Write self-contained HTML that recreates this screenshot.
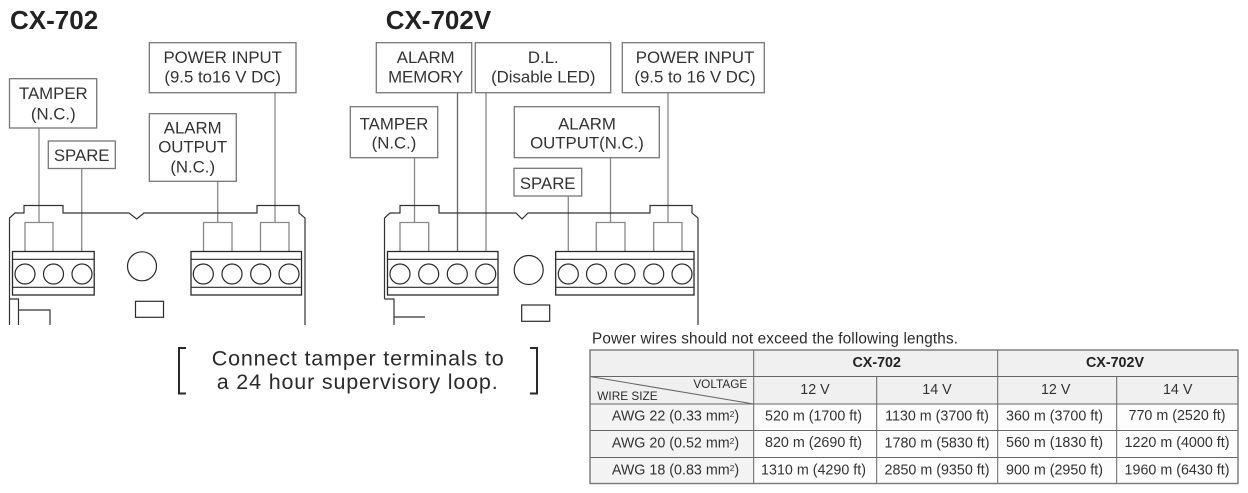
<!DOCTYPE html>
<html><head><meta charset="utf-8"><style>
html,body{margin:0;padding:0;background:#fff;width:1248px;height:493px;overflow:hidden}
svg{display:block}
text{font-family:"Liberation Sans",sans-serif;fill:#2b2b2b}
.l{font-size:16.8px;text-anchor:middle;fill:#333}
.t{font-size:14.3px;text-anchor:middle;fill:#333}
.b{fill:#fff;stroke:#777;stroke-width:1.3}
.g{fill:none;stroke:#888;stroke-width:1.3}
.k{fill:none;stroke:#2a2a2a;stroke-width:1.2}
.o{fill:none;stroke:#333;stroke-width:1.2}
.c{fill:none;stroke:#666;stroke-width:1}
.s{font-size:8.5px}
</style></head><body>
<svg width="1248" height="493" viewBox="0 0 1248 493" xmlns="http://www.w3.org/2000/svg">
<!-- titles -->
<text x="10" y="29" font-size="26" font-weight="700" style="fill:#222">CX-702</text>
<text x="385.7" y="29" font-size="26" font-weight="700" style="fill:#222">CX-702V</text>

<!-- left connectors -->
<path class="g" d="M39 128V222.5M81.7 168.5V251.5M217.7 181.3V222.5M275 92.7V222.5M25 251.5V222.5H53V251.5M203.5 251.5V222.5H232V251.5M260.5 251.5V222.5H289V251.5"/>
<!-- left boxes -->
<rect class="b" x="9.5" y="78.7" width="87.2" height="49.3"/>
<rect class="b" x="48.3" y="141" width="67" height="27.5"/>
<rect class="b" x="149.3" y="42.7" width="146.7" height="50"/>
<rect class="b" x="149.3" y="113.7" width="87" height="67.6"/>
<text class="l" x="53.3" y="99">TAMPER</text><text class="l" x="53.3" y="119.3">(N.C.)</text>
<text class="l" x="81.7" y="161">SPARE</text>
<text class="l" x="222.7" y="63">POWER INPUT</text><text class="l" x="222.7" y="82.7">(9.5 to16 V DC)</text>
<text class="l" x="192.7" y="133.3">ALARM</text><text class="l" x="192.7" y="152.7">OUTPUT</text><text class="l" x="192.7" y="172.7">(N.C.)</text>
<!-- left board -->
<path class="o" d="M9.5 325V299M9.5 299V218L15 213H24V205.5H63V213H129L136.7 219L144 213H257V205.5H299V213L305 218V325M9.5 299H18.5V325M18.5 310H50V325"/>
<rect class="k" x="12.5" y="251.5" width="81.7" height="43.5" style="stroke-width:1.3"/>
<path class="k" d="M12.5 259.3H94.2M12.5 287.3H94.2"/>
<circle class="k" cx="25" cy="274" r="10"/><circle class="k" cx="53.5" cy="274" r="10"/><circle class="k" cx="82" cy="274" r="10"/>
<rect class="k" x="191" y="251.5" width="110.5" height="43.5" style="stroke-width:1.3"/>
<path class="k" d="M191 259.3H301.5M191 287.3H301.5"/>
<circle class="k" cx="203.3" cy="274" r="10"/><circle class="k" cx="232" cy="274" r="10"/><circle class="k" cx="260.7" cy="274" r="10"/><circle class="k" cx="289" cy="274" r="10"/>
<circle class="k" cx="142" cy="266.3" r="14.5"/>
<rect class="k" x="135.5" y="301.3" width="28" height="16"/>

<!-- right connectors -->
<path class="g" d="M414.5 157.7V222.5M400 251.5V222.5H428.7V251.5M486 92.7V251.5M568.3 196V251.5M610.5 157.7V222.5M668 92.7V222.5M596.3 251.5V222.5H625V251.5M653.7 251.5V222.5H682V251.5"/>
<path d="M457.5 92.7V251.5" fill="none" stroke="#666" stroke-width="1.3"/>
<!-- right boxes -->
<rect class="b" x="376.3" y="42.7" width="95.4" height="50"/>
<rect class="b" x="475.3" y="42.7" width="135.4" height="50"/>
<rect class="b" x="622.3" y="42.7" width="142" height="50"/>
<rect class="b" x="350.3" y="106.7" width="87.4" height="51"/>
<rect class="b" x="514.3" y="106.7" width="145" height="51"/>
<rect class="b" x="514" y="168.3" width="67.7" height="27.7"/>
<text class="l" x="425.7" y="63">ALARM</text><text class="l" x="425.7" y="82.7">MEMORY</text>
<text class="l" x="543.3" y="63">D.L.</text><text class="l" x="543.3" y="82.7">(Disable LED)</text>
<text class="l" x="695" y="63">POWER INPUT</text><text class="l" x="695" y="82.7">(9.5 to 16 V DC)</text>
<text class="l" x="394" y="129.3">TAMPER</text><text class="l" x="394" y="148.7">(N.C.)</text>
<text class="l" x="587" y="129.3">ALARM</text><text class="l" x="587" y="148.7">OUTPUT(N.C.)</text>
<text class="l" x="547.7" y="189">SPARE</text>
<!-- right board -->
<path class="o" d="M384.5 299V218L390 213H400V205.5H439V213H516L522 219L528 213H650V205.5H692V213L698 218V325M384.5 299H394V325M394 317H425"/>
<rect class="k" x="387.5" y="251.5" width="110.5" height="43.5" style="stroke-width:1.3"/>
<path class="k" d="M387.5 259.3H498M387.5 287.3H498"/>
<circle class="k" cx="400" cy="274" r="10"/><circle class="k" cx="428.7" cy="274" r="10"/><circle class="k" cx="457.3" cy="274" r="10"/><circle class="k" cx="485.7" cy="274" r="10"/>
<rect class="k" x="555.7" y="251.5" width="138.3" height="43.5" style="stroke-width:1.3"/>
<path class="k" d="M555.7 259.3H694M555.7 287.3H694"/>
<circle class="k" cx="568.3" cy="274" r="10"/><circle class="k" cx="596.5" cy="274" r="10"/><circle class="k" cx="625" cy="274" r="10"/><circle class="k" cx="653.7" cy="274" r="10"/><circle class="k" cx="682" cy="274" r="10"/>
<circle class="k" cx="528.7" cy="270" r="14.5"/>
<rect class="k" x="521.7" y="305" width="28" height="16.3"/>

<!-- note -->
<path d="M186 348H179V393.5H186M530 348H537V393.5H530" fill="none" stroke="#2a2a2a" stroke-width="2"/>
<text x="211.7" y="365.7" font-size="21.5" textLength="292" lengthAdjust="spacing">Connect tamper terminals to</text>
<text x="216.7" y="389" font-size="21.5" textLength="281" lengthAdjust="spacing">a 24 hour supervisory loop.</text>

<!-- table -->
<text x="592" y="343.3" font-size="15.3" textLength="366" lengthAdjust="spacing">Power wires should not exceed the following lengths.</text>
<rect x="590" y="350" width="648" height="54" fill="#f0f0f0"/>
<rect x="590" y="404" width="164" height="80" fill="#f3f3f3"/>
<rect x="754" y="404" width="484" height="80" fill="#fdfdfd"/>
<path class="c" d="M590 376.5H1238M590 404H1238M590 430.5H1238M590 457.5H1238M753.7 350V483.5M997.7 350V483.5M876.7 376.5V483.5M1116.7 376.5V483.5M590 376.5L753.7 404"/>
<rect x="590" y="350" width="648" height="133.5" fill="none" stroke="#777" stroke-width="1.4"/>
<text x="876.7" y="367" class="t" font-weight="700" style="fill:#222">CX-702</text>
<text x="1115" y="367" class="t" font-weight="700" style="fill:#222">CX-702V</text>
<text x="747.3" y="388" font-size="11.8" text-anchor="end">VOLTAGE</text>
<text x="597.3" y="400" font-size="11.8">WIRE SIZE</text>
<text class="t" x="815" y="394">12 V</text><text class="t" x="937" y="394">14 V</text><text class="t" x="1055.7" y="394">12 V</text><text class="t" x="1177.7" y="394">14 V</text>
<text class="t" x="675.5" y="420.7">AWG 22 (0.33 mm<tspan class="s" dy="-3.5">2</tspan><tspan dy="3.5">)</tspan></text>
<text class="t" x="675.5" y="447.5">AWG 20 (0.52 mm<tspan class="s" dy="-3.5">2</tspan><tspan dy="3.5">)</tspan></text>
<text class="t" x="675.5" y="474.3">AWG 18 (0.83 mm<tspan class="s" dy="-3.5">2</tspan><tspan dy="3.5">)</tspan></text>
<text class="t" x="813.5" y="420.7">520 m (1700 ft)</text><text class="t" x="937" y="420.7">1130 m (3700 ft)</text><text class="t" x="1054.5" y="420.7">360 m (3700 ft)</text><text class="t" x="1177" y="420">770 m (2520 ft)</text>
<text class="t" x="813.5" y="447">820 m (2690 ft)</text><text class="t" x="937" y="447.5">1780 m (5830 ft)</text><text class="t" x="1054.5" y="447">560 m (1830 ft)</text><text class="t" x="1177" y="447">1220 m (4000 ft)</text>
<text class="t" x="813.5" y="474.3">1310 m (4290 ft)</text><text class="t" x="937" y="474.3">2850 m (9350 ft)</text><text class="t" x="1054.5" y="474.3">900 m (2950 ft)</text><text class="t" x="1177" y="474.3">1960 m (6430 ft)</text>
</svg>
</body></html>
